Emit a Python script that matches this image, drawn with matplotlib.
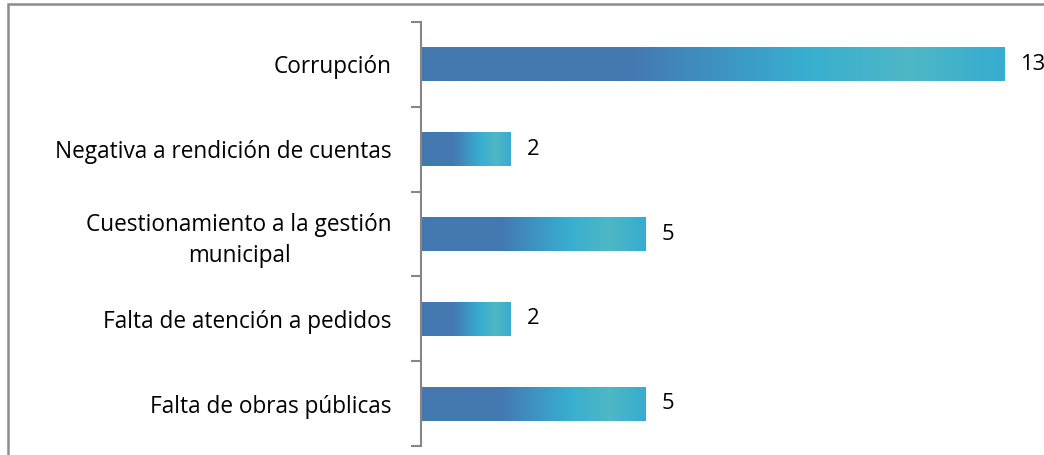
import matplotlib
matplotlib.use('Agg')
import matplotlib.pyplot as plt
import numpy as np
from matplotlib.colors import LinearSegmentedColormap
from matplotlib.patches import Rectangle

# datos del grafico
categorias = ['Corrupción', 'Negativa a rendición de cuentas',
              'Cuestionamiento a la gestión\nmunicipal',
              'Falta de atención a pedidos', 'Falta de obras públicas']
valores = [13, 2, 5, 2, 5]

plt.rcParams['font.family'] = ['Open Sans', 'DejaVu Sans']

fig = plt.figure(figsize=(10.44, 4.55), dpi=100)
ax = fig.add_axes([421 / 1044, 9 / 455, 1 - 421 / 1044, (446 - 22) / 455])

# degradado horizontal de cada barra
grad = LinearSegmentedColormap.from_list('grad', [
    (0.0, '#4479B0'), (0.36, '#4479B1'), (0.66, '#38AECF'),
    (0.84, '#4FB7C5'), (1.0, '#36ACD0')])
gimg = np.linspace(0, 1, 256).reshape(1, -1)

pos = np.arange(len(categorias))
bars = ax.barh(pos, valores, height=0.4, color='none', edgecolor='none')
for b, v in zip(bars, valores):
    y0 = b.get_y()
    im = ax.imshow(gimg, cmap=grad, aspect='auto',
                   extent=(0, v, y0 + b.get_height(), y0), zorder=2)
    im.set_clip_path(b)
    ax.text(v + 0.36, b.get_y() + b.get_height() / 2, str(v),
            va='center', ha='left', fontsize=15.8, color='black')

ax.set_xlim(0, (1044 - 421) / 44.85)
ax.set_ylim(len(categorias) - 0.5, -0.5)

for s in ['top', 'right', 'bottom']:
    ax.spines[s].set_visible(False)
ax.spines['left'].set_color('#868686')
ax.spines['left'].set_linewidth(1.5)
ax.set_xticks([])
ax.set_yticks(pos)
ax.set_yticklabels(categorias, fontsize=16.3)
ax.tick_params(axis='y', which='major', length=0, pad=21)
ax.set_yticks(np.arange(-0.5, len(categorias)), minor=True)
ax.tick_params(axis='y', which='minor', length=7, width=1.5, color='#868686')
for t in ax.get_yticklabels():
    t.set_multialignment('center')
    t.set_linespacing(1.38)

# marco exterior del area del grafico
fig.patches.append(Rectangle((7.5 / 1044, -0.1), 1.2, 1.1 - 4 / 455,
                             transform=fig.transFigure, fill=False,
                             edgecolor='#8C8C8C', linewidth=1.8))

fig.savefig('out.png', dpi=100)
